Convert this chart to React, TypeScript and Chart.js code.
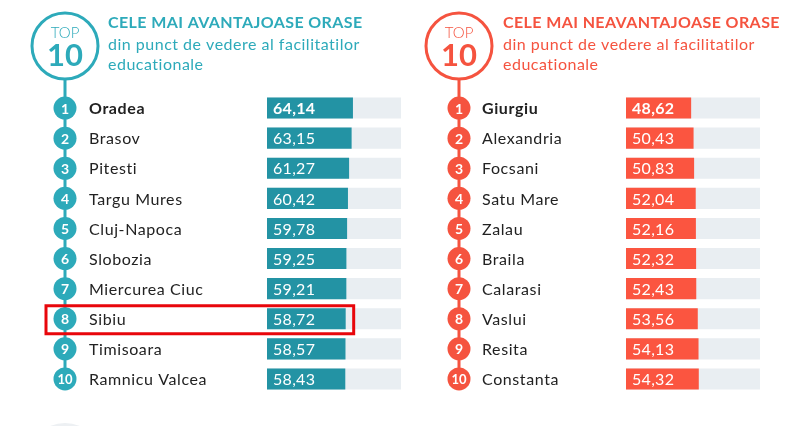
import React, { useEffect, useRef } from "react";
import { Chart, registerables } from "chart.js";

Chart.register(...registerables);

// ---------- data ----------
const bestCities = [
  "Oradea", "Brasov", "Pitesti", "Targu Mures", "Cluj-Napoca",
  "Slobozia", "Miercurea Ciuc", "Sibiu", "Timisoara", "Ramnicu Valcea",
];
const bestScores = [64.14, 63.15, 61.27, 60.42, 59.78, 59.25, 59.21, 58.72, 58.57, 58.43];

const worstCities = [
  "Giurgiu", "Alexandria", "Focsani", "Satu Mare", "Zalau",
  "Braila", "Calarasi", "Vaslui", "Resita", "Constanta",
];
const worstScores = [48.62, 50.43, 50.83, 52.04, 52.16, 52.32, 52.43, 53.56, 54.13, 54.32];

const ranks = ["1", "2", "3", "4", "5", "6", "7", "8", "9", "10"];
const trackScores = [100, 100, 100, 100, 100, 100, 100, 100, 100, 100];
const scoreMax = 100;

const bestTitle = "CELE MAI AVANTAJOASE ORASE";
const worstTitle = "CELE MAI NEAVANTAJOASE ORASE";
const subtitleLines = ["din punct de vedere al facilitatilor", "educationale"];
const badgeTop = "TOP";
const badgeNum = "10";
const highlightCity = "Sibiu";

// ---------- styles ----------
const FONT = "Lato, 'Open Sans', sans-serif";
const TEAL = "#2DAABA";
const TEAL_BAR = "#2393A4";
const RED = "#F5533F";
const RED_BAR = "#FB5540";
const TRACK = "#E9EEF2";

type PanelProps = {
  cities: string[];
  scores: number[];
  title: string;
  accent: string;
  barColor: string;
  width: number;
  left: number;
  padLeft: number;
  padRight: number;
  circleX: number;
  nameX: number;
  titleX: number;
  highlight?: string;
};

function fmt(v: number) {
  return v.toFixed(2).replace(".", ",");
}

function Panel(p: PanelProps) {
  const ref = useRef<HTMLCanvasElement | null>(null);
  useEffect(() => {
    if (!ref.current) return;
    const deco = {
      id: "deco",
      afterDraw(chart: any) {
        const ctx = chart.ctx as any;
        const ys = chart.scales.y;
        const area = chart.chartArea;
        const n = p.cities.length;
        const rowY = (i: number) => ys.getPixelForValue(i);
        ctx.save();
        // badge
        const bx = p.circleX;
        const by = 46;
        const br = 33;
        ctx.strokeStyle = p.accent;
        ctx.lineWidth = 3;
        ctx.beginPath();
        ctx.moveTo(bx, by + br);
        ctx.lineTo(bx, rowY(n - 1));
        ctx.stroke();
        ctx.beginPath();
        ctx.arc(bx, by, br, 0, Math.PI * 2);
        ctx.fillStyle = "#fff";
        ctx.fill();
        ctx.lineWidth = 3;
        ctx.stroke();
        ctx.fillStyle = p.accent;
        ctx.textAlign = "center";
        ctx.textBaseline = "middle";
        ctx.letterSpacing = "0px";
        ctx.font = `300 15px ${FONT}`;
        ctx.fillText(badgeTop, bx, by - 13);
        ctx.font = `bold 31px ${FONT}`;
        ctx.fillText(badgeNum, bx, by + 10);
        // title
        ctx.textAlign = "left";
        ctx.letterSpacing = "0.4px";
        ctx.font = `bold 16px ${FONT}`;
        ctx.fillText(p.title, p.titleX, 23);
        ctx.letterSpacing = "0.5px";
        ctx.font = `16px ${FONT}`;
        subtitleLines.forEach((l, i) => ctx.fillText(l, p.titleX, 45 + i * 20));
        // rows
        for (let i = 0; i < n; i++) {
          const y = rowY(i);
          ctx.beginPath();
          ctx.arc(p.circleX, y, 11.5, 0, Math.PI * 2);
          ctx.fillStyle = p.accent;
          ctx.fill();
          ctx.fillStyle = "#fff";
          ctx.textAlign = "center";
          ctx.letterSpacing = "0px";
          ctx.font = `bold ${i === 9 ? 13 : 14}px ${FONT}`;
          ctx.fillText(ranks[i], p.circleX, y + 1);
          ctx.textAlign = "left";
          ctx.fillStyle = "#222";
          ctx.letterSpacing = "0.6px";
          ctx.font = `${i === 0 ? "bold " : ""}16px ${FONT}`;
          ctx.fillText(p.cities[i], p.nameX, y + 1);
          ctx.fillStyle = "#fff";
          ctx.letterSpacing = "0.3px";
          ctx.font = `${i === 0 ? "bold " : ""}16px ${FONT}`;
          ctx.fillText(fmt(p.scores[i]), area.left + 6, y + 1);
        }
        // highlight frame
        if (p.highlight) {
          const idx = p.cities.indexOf(p.highlight);
          if (idx >= 0) {
            const y = rowY(idx);
            const xEnd = chart.scales.x.getPixelForValue(p.scores[idx]);
            ctx.strokeStyle = "#E8060B";
            ctx.lineWidth = 3;
            ctx.strokeRect(p.circleX - 19, y - 13, xEnd + 8 - (p.circleX - 19), 28);
          }
        }
        ctx.restore();
      },
    };
    const chart = new Chart(ref.current, {
      type: "bar",
      data: {
        labels: p.cities,
        datasets: [
          {
            data: p.scores,
            backgroundColor: p.barColor,
            borderWidth: 0,
            barPercentage: 0.7,
            categoryPercentage: 1,
            grouped: false,
            order: 1,
          },
          {
            data: trackScores,
            backgroundColor: TRACK,
            borderWidth: 0,
            barPercentage: 0.7,
            categoryPercentage: 1,
            grouped: false,
            order: 2,
          },
        ],
      },
      options: {
        indexAxis: "y",
        responsive: false,
        animation: false,
        devicePixelRatio: 1,
        layout: { padding: { left: p.padLeft, right: p.padRight, top: 93, bottom: 32 } },
        scales: {
          x: { display: false, min: 0, max: scoreMax },
          y: { display: false },
        },
        plugins: { legend: { display: false }, tooltip: { enabled: false } },
      },
      plugins: [deco],
    } as any);
    return () => chart.destroy();
  }, []);
  return (
    <canvas
      ref={ref}
      width={p.width}
      height={426}
      style={{ position: "absolute", left: p.left, top: 0, width: p.width, height: 426 }}
    />
  );
}

export default function App() {
  return (
    <div
      style={{
        position: "fixed",
        left: 0,
        top: 0,
        width: 800,
        height: 426,
        background: "#fff",
        overflow: "hidden",
      }}
    >
      <div
        style={{
          position: "absolute",
          left: 28,
          top: 423,
          width: 74,
          height: 74,
          borderRadius: "50%",
          background: "#EDF0F3",
        }}
      />
      <Panel
        cities={bestCities}
        scores={bestScores}
        title={bestTitle}
        accent={TEAL}
        barColor={TEAL_BAR}
        width={410}
        left={0}
        padLeft={267}
        padRight={9}
        circleX={65}
        nameX={89}
        titleX={108}
        highlight={highlightCity}
      />
      <Panel
        cities={worstCities}
        scores={worstScores}
        title={worstTitle}
        accent={RED}
        barColor={RED_BAR}
        width={390}
        left={410}
        padLeft={216}
        padRight={40}
        circleX={49}
        nameX={72}
        titleX={93}
      />
    </div>
  );
}
